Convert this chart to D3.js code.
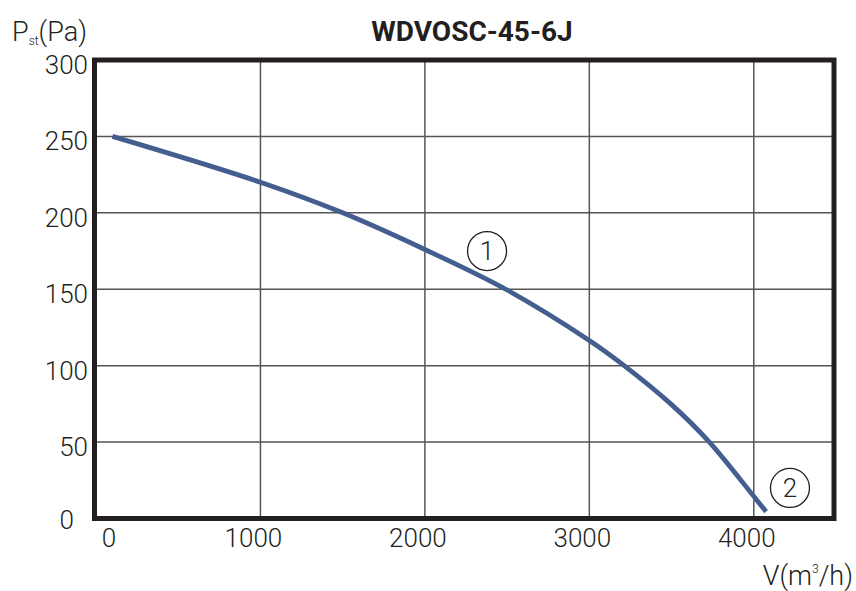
<!DOCTYPE html>
<html><head><meta charset="utf-8">
<script src="https://cdn.jsdelivr.net/npm/d3@7"></script>
<style>body{margin:0;background:#fff}svg{display:block}</style>
</head><body>
<svg id="chart" width="856" height="591"></svg>
<script>
const title = "WDVOSC-45-6J";
const xTicks = [0, 1000, 2000, 3000, 4000];
const yTicks = [0, 50, 100, 150, 200, 250, 300];
const flow = [100, 1000, 1500, 2000, 2500, 3000, 3200, 3500, 3730, 4000, 4075];
const pressure = [250, 220, 200, 176, 149.5, 116.5, 101, 74.5, 50, 14.5, 4.5];
const markerLabels = ["1", "2"];
const markerFlow = [2378, 4220];
const markerPressure = [175, 20];

const svg = d3.select("#chart");
const font = "Roboto, 'Open Sans', sans-serif";
const x = d3.scaleLinear().domain([0, 4500]).range([96, 836]);
const y = d3.scaleLinear().domain([0, 300]).range([518.5, 60]);
const dark = "#231f20";

// grid
svg.append("g").selectAll("line").data(xTicks.filter(d => d > 0)).join("line")
  .attr("x1", d => x(d)).attr("x2", d => x(d)).attr("y1", y(300)).attr("y2", y(0))
  .attr("stroke", "#555").attr("stroke-width", 1.5);
svg.append("g").selectAll("line").data(yTicks.filter(d => d > 0 && d < 300)).join("line")
  .attr("x1", x(0)).attr("x2", x(4500)).attr("y1", d => y(d)).attr("y2", d => y(d))
  .attr("stroke", "#555").attr("stroke-width", 1.5);

// curve
const pts = flow.map((f, i) => [f, pressure[i]]);
svg.append("path").datum(pts)
  .attr("d", d3.line().x(d => x(d[0])).y(d => y(d[1])).curve(d3.curveCatmullRom.alpha(0.5)))
  .attr("fill", "none").attr("stroke", "#445e8f").attr("stroke-width", 4.8);

// frame
svg.append("rect").attr("x", x(0) - 1.5).attr("y", y(300))
  .attr("width", x(4500) - x(0) - 0.5).attr("height", y(0) - y(300))
  .attr("fill", "none").attr("stroke", dark).attr("stroke-width", 5);

// x tick labels
svg.append("g").selectAll("text").data(xTicks).join("text")
  .attr("x", d => x(d) + (d === 0 ? 13 : -7)).attr("y", 547)
  .attr("text-anchor", "middle").attr("font-family", font).attr("font-size", 26)
  .attr("font-weight", 300).attr("fill", dark).text(d => d);

// y tick labels
svg.append("g").selectAll("text").data(yTicks).join("text")
  .attr("x", d => d === 0 ? 74 : 88).attr("y", d => y(d) + (d === 0 ? 10 : 14))
  .attr("text-anchor", "end").attr("font-family", font).attr("font-size", 26)
  .attr("font-weight", 300).attr("fill", dark).text(d => d);

// title
svg.append("text").attr("x", 472).attr("y", 41).attr("text-anchor", "middle")
  .attr("font-family", font).attr("font-size", 28).attr("font-weight", 700)
  .attr("fill", dark).text(title);

// y axis label
const yl = svg.append("text").attr("x", 12).attr("y", 41)
  .attr("font-family", font).attr("font-size", 27).attr("font-weight", 300).attr("fill", dark);
yl.append("tspan").text("P");
yl.append("tspan").attr("font-size", 12).attr("dy", 4).text("st");
yl.append("tspan").attr("dy", -4).text("(Pa)");

// x axis label
const xl = svg.append("text").attr("x", 853).attr("y", 585).attr("text-anchor", "end")
  .attr("font-family", font).attr("font-size", 27).attr("font-weight", 300).attr("fill", dark);
xl.append("tspan").text("V(m");
xl.append("tspan").attr("font-size", 12).attr("dy", -12).text("3");
xl.append("tspan").attr("dy", 12).text("/h)");

// circled markers
const mk = svg.append("g").selectAll("g").data(markerLabels).join("g")
  .attr("transform", (d, i) => `translate(${x(markerFlow[i])},${y(markerPressure[i])})`);
mk.append("circle").attr("r", 19.5).attr("fill", "none").attr("stroke", dark).attr("stroke-width", 1.3);
mk.append("text").attr("text-anchor", "middle").attr("y", 9)
  .attr("font-family", font).attr("font-size", 26).attr("font-weight", 300)
  .attr("fill", dark).text(d => d);
</script>
</body></html>
